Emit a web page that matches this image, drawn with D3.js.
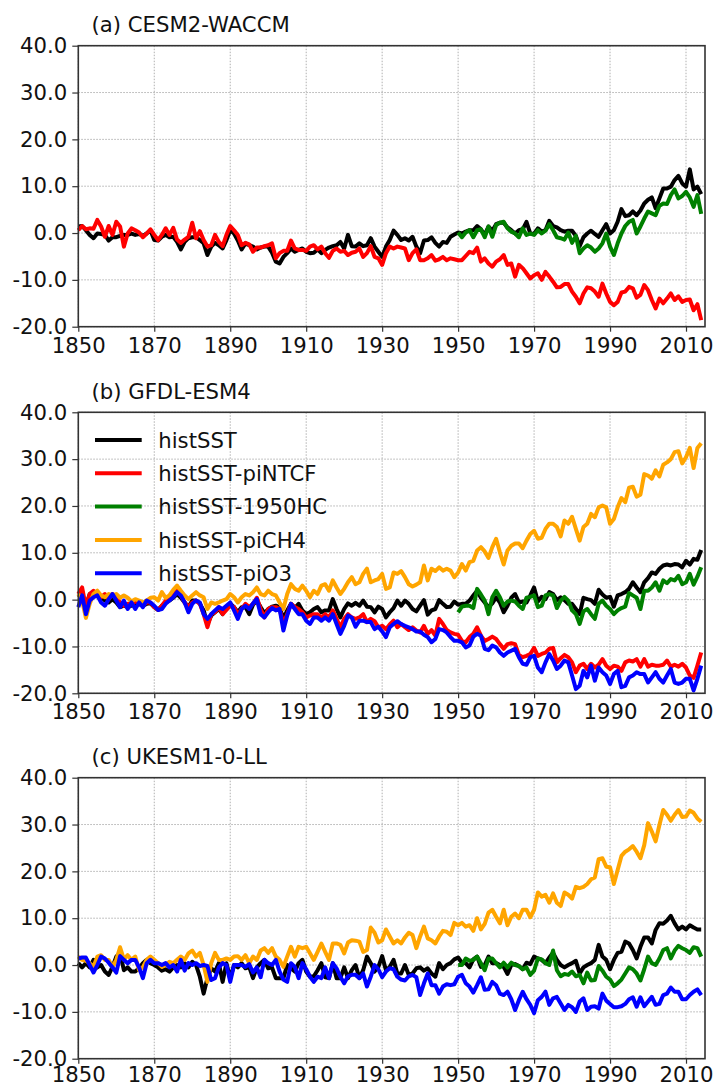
<!DOCTYPE html>
<html>
<head>
<meta charset="utf-8">
<script src="https://cdn.jsdelivr.net/npm/d3@7"></script>
<style>
  html, body { margin: 0; padding: 0; background: #fff; }
  svg { display: block; }
  text { font-family: "DejaVu Sans", sans-serif; }
</style>
</head>
<body>
<div id="graph_container"></div>
<script>
// years 1850..2014, 1950HC runs start in 1950
var years     = d3.range(1850, 2015);
var yearsHC   = d3.range(1950, 2015);
var xTicks    = [1850, 1870, 1890, 1910, 1930, 1950, 1970, 1990, 2010];
var yTicks    = [-20, -10, 0, 10, 20, 30, 40];

var seriesNames  = ["histSST", "histSST-piNTCF", "histSST-1950HC", "histSST-piCH4", "histSST-piO3"];
var seriesColors = ["#000000", "#ff0000", "#008000", "#ffa500", "#0000ff"];
var panelTitles  = ["(a) CESM2-WACCM", "(b) GFDL-ESM4", "(c) UKESM1-0-LL"];

// (a) CESM2-WACCM
var aHist = [
  1.4, 1.5, 0.6, -0.4, -1.1, -0.1, -0.2, -0.4, -1.6, -0.9,
  -0.9, -0.6, -0.4, -0.4, -0.1, -0.4, -0.2, -0.6, -0.1, 0.6,
  -1.5, -1.6, -0.8, -0.4, -0.9, -0.8, -1.9, -3.5, -1.9, -1.1,
  -0.9, -0.9, -1.5, -2.2, -4.7, -2.9, -2.1, -2.6, -3.3, -1.5,
  0.6, -0.1, -1.6, -3.5, -2.2, -2.6, -2.9, -3.5, -3.1, -2.9,
  -2.9, -4.2, -6.1, -6.5, -5.1, -4.3, -3.3, -4.0, -3.6, -3.3,
  -4.0, -4.3, -4.2, -3.5, -4.3, -3.6, -3.1, -2.8, -2.6, -1.9,
  -3.3, -0.4, -2.8, -2.9, -2.2, -2.8, -2.6, -1.1, -2.9, -4.0,
  -5.1, -2.9, -1.5, 0.5, -0.4, -1.5, -1.1, -1.6, -0.8, -2.9,
  -4.3, -1.6, -1.5, -0.9, -2.1, -2.9, -1.9, -2.1, -0.8, -0.3,
  0.1, -0.1, 0.3, 0.6, 0.6, 1.5, 0.8, -0.4, 1.4, 0.5,
  1.9, 2.2, 2.2, 1.2, 0.6, -0.1, 0.6, 0.8, 2.4, -0.1,
  -0.2, 1.0, 0.3, 0.6, 2.6, 1.5, 1.2, 0.6, 0.3, 0.5,
  0.5, -0.6, -2.8, -0.9, -0.1, 0.5, -0.2, -0.8, 0.6, 1.9,
  -0.1, 0.6, 2.4, 5.1, 3.6, 3.8, 4.6, 3.8, 4.8, 6.3,
  7.1, 7.6, 5.3, 7.4, 9.5, 9.5, 9.9, 11.3, 12.2, 10.6,
  9.9, 13.6, 9.3, 9.9, 8.3
];
var aNTCF = [
  0.6, 1.5, 0.8, 1.0, 0.9, 2.8, 1.4, -0.8, 1.5, -0.4,
  2.4, 1.4, -2.9, -0.1, 1.0, 0.6, 0.1, -0.9, -0.1, 0.8,
  -0.4, -1.5, -0.4, 1.0, -0.4, 1.1, -1.4, -2.1, -1.4, -0.8,
  2.2, -1.1, 0.4, -1.5, -2.9, -2.6, -0.4, -1.9, -2.8, -0.4,
  1.5, 0.6, -0.4, -2.6, -2.1, -2.4, -4.0, -3.1, -3.1, -2.8,
  -2.6, -2.2, -5.4, -4.3, -3.8, -3.8, -1.6, -3.3, -3.6, -3.6,
  -3.8, -2.9, -2.6, -3.5, -2.9, -4.3, -5.3, -3.8, -3.3, -4.0,
  -3.8, -4.7, -4.2, -4.0, -3.3, -5.1, -4.3, -2.8, -5.1, -5.4,
  -6.8, -4.3, -2.9, -3.3, -2.9, -3.1, -3.3, -5.8, -4.3, -3.5,
  -5.8, -5.8, -5.4, -4.7, -5.9, -5.6, -5.1, -5.8, -5.4, -5.6,
  -5.8, -5.8, -4.9, -4.0, -4.3, -3.1, -6.1, -5.4, -6.5, -7.2,
  -6.1, -5.6, -4.7, -6.8, -6.5, -9.3, -6.8, -7.5, -8.6, -9.7,
  -9.0, -8.6, -10.0, -8.3, -9.3, -10.4, -11.6, -11.5, -10.9, -10.9,
  -12.5, -13.6, -15.0, -12.9, -11.6, -11.8, -12.5, -13.6, -10.8, -12.9,
  -14.7, -15.4, -14.7, -12.7, -12.5, -11.5, -11.8, -13.8, -13.2, -11.1,
  -12.2, -14.3, -16.1, -14.0, -15.0, -14.0, -12.9, -14.3, -13.5, -14.7,
  -14.3, -14.2, -16.5, -15.2, -18.6
];
var aHC = [
  0.1, -0.9, 0.1, 0.6, -0.9, 0.6, 0.8, -0.9, 1.4, -0.8,
  1.7, 2.2, 2.4, 1.0, 0.3, -0.1, -0.9, 1.0, -0.4, -0.1,
  -0.4, 0.6, -0.1, 0.5, 1.9, 0.6, -0.9, -1.1, -1.4, 0.1,
  -2.1, -0.6, -4.3, -3.3, -2.6, -3.1, -4.0, -3.3, -2.2, -0.1,
  -2.9, -4.7, -2.2, -0.1, 1.5, 2.4, 2.8, -0.1, 1.4, 3.1,
  4.6, 4.2, 3.8, 5.8, 6.3, 6.2, 8.1, 9.3, 7.4, 7.9,
  8.8, 7.6, 5.6, 8.1, 4.1
];

// (b) GFDL-ESM4
var bHist = [
  0.5, 1.2, -1.3, 1.2, 1.6, 0.9, 0.5, -0.2, -0.6, 0.1,
  -0.6, -1.6, -1.3, -1.6, -1.3, -0.8, -0.9, -1.3, -0.9, -0.8,
  -1.6, -2.2, -1.3, -0.6, -0.2, 0.4, 1.2, 0.4, -0.6, -1.6,
  -0.2, -0.2, -0.9, -2.3, -5.2, -3.4, -2.7, -2.0, -3.1, -1.6,
  -0.9, -1.6, -2.7, -1.6, -1.6, -3.1, -1.1, -0.2, -1.6, -2.9,
  -2.0, -1.5, -1.3, -1.6, -4.1, -2.3, -0.9, -1.8, -0.9, -2.3,
  -3.1, -2.7, -2.0, -1.6, -2.7, -2.3, -2.3, 0.1, -2.0, -3.8,
  -2.0, -0.8, -1.3, -0.7, -1.3, -0.2, -1.5, -1.6, -2.7, -1.5,
  -2.0, -3.8, -2.7, -1.8, -0.2, -1.3, -0.2, -0.9, -2.0, -2.5,
  -1.3, -0.1, -3.2, -2.3, -2.0, -0.1, -0.9, -1.6, -1.5, -0.4,
  -1.1, -0.9, -0.9, -0.2, 0.9, 1.9, 0.4, -0.6, -1.6, -0.8,
  0.5, -0.6, -2.7, -1.3, 0.4, 1.2, -0.6, -0.4, -0.6, 0.9,
  2.6, -0.4, 0.6, 0.1, 1.6, 1.2, -0.1, 0.5, -0.1, -0.9,
  -0.9, -2.0, -3.1, 0.4, 0.1, -0.1, -0.9, 2.1, 1.1, 0.4,
  0.6, -1.5, 0.9, 1.2, 1.6, 2.3, 3.7, 2.6, 1.6, 3.7,
  4.6, 5.8, 5.5, 6.6, 7.3, 7.5, 7.3, 7.6, 7.5, 6.9,
  8.3, 7.5, 8.7, 8.5, 10.6
];
var bNTCF = [
  1.2, 2.6, -1.6, 1.2, 1.9, 1.2, 0.5, 1.2, 0.1, 1.2,
  0.4, -0.6, -1.3, -0.9, -0.9, -0.4, -0.6, -1.3, -0.6, -0.6,
  -1.6, -2.2, -1.3, -0.2, 0.1, 1.2, 1.9, 0.9, -0.6, -1.6,
  -0.6, -0.2, -0.9, -3.1, -5.9, -3.1, -2.7, -1.6, -3.1, -2.2,
  -1.3, -1.6, -3.1, -2.0, -0.9, -1.6, -0.9, 0.4, -2.0, -3.8,
  -2.0, -1.6, -1.6, -2.0, -5.2, -3.1, -0.9, -1.6, -2.0, -2.7,
  -3.8, -3.4, -3.1, -3.1, -3.8, -3.1, -3.8, -2.3, -4.1, -5.9,
  -4.1, -3.1, -3.8, -4.1, -3.8, -3.1, -4.8, -4.1, -4.6, -5.9,
  -5.6, -6.3, -5.3, -4.5, -5.9, -5.2, -5.9, -6.5, -5.9, -6.6,
  -7.0, -5.6, -7.3, -6.5, -7.7, -4.1, -5.2, -6.5, -7.0, -7.3,
  -7.5, -8.8, -9.1, -8.0, -7.3, -5.9, -7.7, -8.8, -8.4, -7.9,
  -8.4, -9.5, -10.5, -9.5, -9.3, -9.5, -11.8, -12.3, -12.0, -11.6,
  -10.3, -12.0, -11.6, -11.3, -10.5, -10.3, -13.4, -12.5, -11.8, -12.3,
  -13.4, -15.5, -14.1, -13.7, -14.8, -13.7, -14.5, -13.9, -12.7, -14.1,
  -14.8, -14.1, -14.3, -15.2, -13.4, -13.0, -13.2, -12.7, -14.3, -12.7,
  -14.3, -13.9, -14.1, -14.1, -13.9, -13.0, -14.3, -13.9, -14.3, -13.7,
  -14.5, -16.2, -16.7, -14.1, -11.3
];
var bHC = [
  -2.7, -1.5, -1.3, -1.3, -1.8, 2.3, 1.1, -0.2, -3.1, 0.5,
  1.9, 0.5, -1.3, -0.4, -0.2, -0.4, -1.3, -2.0, 0.4, 0.6,
  0.9, -1.6, -1.3, 0.9, 1.2, 0.9, -1.8, -0.2, 0.6, -0.2,
  -2.3, -3.1, -5.2, -2.5, -2.0, -3.1, -4.1, -0.9, -0.2, -1.3,
  -2.0, -3.1, -2.3, -1.8, -1.5, 1.4, 0.9, 0.4, -2.0, 1.9,
  1.9, 2.6, 3.7, 1.9, 4.1, 3.5, 4.4, 4.1, 5.1, 3.3,
  3.7, 5.5, 3.2, 4.9, 6.9
];
var bCH4 = [
  1.2, -0.2, -3.9, -0.9, 1.2, 1.9, 0.9, 0.5, 1.2, 0.9,
  1.2, 0.4, 0.9, 0.4, -0.4, 0.1, -0.2, -0.6, -0.2, 0.4,
  0.5, -0.2, 1.6, 0.4, 0.9, 2.1, 3.0, 1.9, 0.9, 0.1,
  0.9, 1.6, 0.9, 0.5, -2.0, -0.6, -0.9, -0.6, -0.2, 0.1,
  1.2, 0.5, -0.6, 0.5, 1.2, 0.9, 1.6, 2.6, 1.2, 0.9,
  1.9, 1.2, 0.9, -0.6, -2.0, 1.2, 3.3, 2.3, 1.9, 3.0,
  1.9, 0.5, 1.9, 1.2, 3.0, 3.3, 1.9, 4.1, 2.6, 1.2,
  2.3, 3.7, 4.8, 3.3, 3.7, 5.5, 6.6, 3.7, 4.1, 4.4,
  5.5, 2.3, 2.6, 5.8, 5.5, 6.1, 4.8, 3.3, 2.8, 3.2,
  3.7, 7.3, 4.1, 6.6, 6.1, 6.9, 6.2, 6.6, 6.2, 4.8,
  5.8, 7.6, 6.2, 8.0, 8.3, 10.5, 11.2, 10.3, 8.9, 11.2,
  13.0, 10.1, 7.5, 10.5, 11.5, 12.0, 12.0, 11.0, 12.6, 14.0,
  14.7, 13.0, 13.2, 15.1, 16.2, 16.2, 15.5, 13.5, 16.9, 16.2,
  17.7, 15.1, 12.6, 15.5, 16.2, 18.3, 17.6, 19.7, 20.1, 19.7,
  16.2, 17.2, 19.7, 21.7, 20.8, 23.9, 24.1, 22.0, 22.4, 26.8,
  26.5, 25.8, 27.6, 26.3, 28.8, 29.3, 30.0, 31.5, 31.7, 29.1,
  30.4, 32.4, 28.1, 32.4, 33.4
];
var bO3 = [
  -1.6, 0.9, -3.1, -0.2, 0.5, 0.9, -0.6, -1.3, 0.1, 1.2,
  -0.2, -1.6, -0.2, -2.0, -0.6, -2.0, -0.6, -1.6, -0.2, -0.6,
  -1.3, -2.2, -2.0, -0.9, -0.2, 0.5, 1.6, 0.9, -0.6, -2.7,
  -0.9, -0.2, -0.6, -3.1, -4.1, -3.1, -2.3, -1.6, -2.0, -1.3,
  -0.6, -2.3, -4.1, -2.0, -1.3, -2.0, -0.8, 0.1, -3.1, -3.8,
  -2.7, -1.8, -2.3, -2.0, -6.6, -3.4, -0.9, -2.0, -3.1, -3.1,
  -4.5, -5.2, -3.8, -3.8, -4.5, -3.8, -4.5, -3.1, -5.2, -7.3,
  -5.6, -3.4, -3.8, -5.8, -4.5, -4.5, -4.8, -4.8, -6.3, -5.8,
  -6.8, -8.0, -5.9, -5.2, -4.6, -5.2, -5.6, -5.9, -6.3, -6.8,
  -6.8, -7.5, -8.0, -9.1, -8.4, -6.3, -6.5, -7.0, -8.0, -8.8,
  -8.8, -9.1, -10.2, -9.8, -7.9, -7.3, -7.7, -10.5, -10.8, -9.8,
  -10.2, -11.3, -12.0, -11.3, -10.9, -10.5, -12.3, -13.7, -13.9, -12.3,
  -12.0, -14.5, -15.5, -13.4, -11.6, -13.0, -14.8, -14.1, -13.0, -13.4,
  -16.2, -19.1, -18.4, -15.2, -16.6, -14.1, -17.3, -14.5, -15.5, -16.2,
  -18.0, -15.9, -15.2, -18.7, -18.4, -16.6, -16.2, -15.5, -15.9, -15.9,
  -17.7, -16.6, -15.5, -16.9, -17.7, -16.2, -14.8, -17.7, -18.0, -17.7,
  -16.9, -16.9, -19.4, -16.9, -14.1
];

// (c) UKESM1-0-LL
var cHist = [
  0.4, -0.5, 0.4, -0.5, 1.1, -0.5, 0.0, -1.4, -2.1, -0.4,
  1.8, 2.5, -1.1, -0.5, -1.4, -1.4, -0.7, 0.4, 1.1, 0.4,
  0.0, -0.5, -1.2, -0.9, -1.4, -0.5, 0.0, -0.5, 0.4, -0.5,
  0.7, 0.0, -2.5, -6.1, -2.8, -0.7, -1.4, 0.4, -3.6, 0.4,
  -2.8, 0.0, -0.5, 0.4, -0.7, -0.4, -2.8, -0.5, 0.4, 1.1,
  -0.7, -0.5, -2.8, -2.8, -2.8, 0.0, -0.7, -1.4, 0.4, 1.1,
  -1.4, -2.5, -2.4, -1.1, 0.4, -2.6, -2.8, 0.4, -2.8, -2.8,
  -0.5, -2.8, -1.1, 0.0, -2.8, -1.1, 1.8, 0.4, -1.4, -0.4,
  1.9, -1.1, -0.4, 1.1, -1.8, -1.8, 0.0, -2.1, -1.8, -0.7,
  -0.5, -1.2, -0.7, -1.8, -2.5, 0.4, -0.9, 0.0, 0.4, 1.2,
  1.6, 0.5, 0.4, -0.5, 1.2, 1.8, -0.4, 0.0, 1.8, 0.4,
  0.4, 0.0, -0.4, -1.9, 0.0, 0.2, -0.2, -0.9, 0.5, 0.2,
  1.8, 1.4, 1.1, 0.4, 1.6, 2.6, 1.1, 0.0, -0.5, 0.0,
  0.4, 0.9, -1.8, -0.5, 0.0, 0.4, 1.1, 4.3, 1.8, 1.1,
  -0.9, 1.1, 2.6, 2.8, 5.0, 4.6, 3.2, 1.4, 3.9, 5.9,
  5.9, 4.6, 7.5, 8.9, 8.8, 9.5, 10.5, 8.9, 7.6, 8.2,
  7.6, 8.5, 8.0, 7.6, 7.6
];
var cHC = [
  0.0, 0.0, 1.4, 0.9, 1.1, 1.8, 0.4, -1.1, 1.4, 1.4,
  0.4, -0.5, 0.5, -0.5, 0.5, 0.0, -0.2, -0.9, -0.5, -2.1,
  -1.2, 1.4, 1.2, 0.4, 0.0, 3.1, -1.1, -2.4, -1.9, -2.1,
  -1.4, -2.4, -2.1, -3.9, -1.6, -3.3, -3.2, -0.2, -1.2, -2.5,
  -3.1, -4.5, -3.9, -3.1, -1.8, -0.5, -0.9, -1.8, -3.3, -0.9,
  1.8, 0.4, 0.0, 1.4, 3.2, 3.6, 1.4, 3.1, 4.1, 3.6,
  3.2, 2.6, 3.8, 3.6, 1.8
];
var cCH4 = [
  1.8, 1.1, 0.9, 0.4, -0.4, 1.8, 2.1, 1.1, 1.1, -0.4,
  1.1, 3.8, 1.2, 2.1, 1.1, 1.8, -1.1, -0.5, 1.1, 1.8,
  1.1, 0.4, -0.4, 0.0, 0.7, 0.4, 1.1, 1.8, 1.1, 2.5,
  3.1, 1.8, 2.6, 0.0, -3.6, 0.4, 2.6, 1.1, 1.1, 1.4,
  1.1, 1.8, 1.9, 1.1, 2.1, 0.4, 1.8, 1.1, 3.1, 3.6,
  2.6, 3.6, 1.8, 1.1, -0.4, 1.8, 3.9, 1.8, 3.9, 3.6,
  3.9, 2.5, 1.1, 2.8, 4.6, 2.8, 1.1, 4.6, 4.6, 4.3,
  2.5, 4.8, 5.3, 5.2, 5.0, 2.8, 3.2, 8.0, 6.9, 4.8,
  5.3, 7.6, 6.1, 4.6, 5.3, 4.6, 5.9, 6.9, 6.4, 3.6,
  6.1, 8.2, 5.7, 5.3, 4.6, 6.1, 7.3, 7.1, 6.4, 9.0,
  8.5, 9.0, 8.2, 8.5, 7.3, 10.0, 7.6, 8.8, 11.2, 11.8,
  10.3, 8.9, 11.8, 8.5, 10.3, 11.0, 10.0, 11.8, 11.8, 10.2,
  11.8, 15.5, 14.6, 15.0, 13.3, 15.3, 13.3, 12.6, 15.5, 15.0,
  14.2, 16.7, 16.4, 16.7, 17.3, 18.3, 18.7, 22.6, 22.8, 21.0,
  20.9, 17.3, 20.3, 23.3, 24.2, 24.7, 25.4, 24.2, 22.8, 25.6,
  30.3, 28.5, 26.4, 29.9, 33.1, 32.1, 30.8, 32.1, 33.1, 31.6,
  31.7, 33.0, 32.5, 31.3, 30.6
];
var cO3 = [
  1.4, 1.6, 1.6, 0.0, -1.6, 0.0, 1.8, 1.4, 0.5, -0.5,
  -1.6, 1.9, 1.1, 0.4, 1.1, 1.1, -0.5, -2.8, 0.4, 1.1,
  0.4, 0.4, 0.0, 0.4, -0.5, 0.0, -1.4, 1.1, -1.2, 0.4,
  0.0, 0.4, -0.2, 0.0, -0.2, -3.2, -2.8, -0.5, 0.4, 0.0,
  -3.6, 0.0, 0.0, 0.0, -0.4, 0.2, -1.6, -0.5, -2.6, 1.1,
  0.4, 0.0, 1.1, -1.4, -3.1, -3.6, 0.4, -0.4, -2.8, 0.4,
  -0.9, -2.5, -3.6, -2.5, -2.8, -0.5, -2.8, 0.4, -0.7, -2.5,
  -3.9, -2.4, -2.1, -2.1, -2.8, -1.8, -4.6, -2.5, 0.0, -0.9,
  -2.6, -1.4, -0.7, -0.9, -2.5, -3.1, -3.3, -2.4, -2.1, -2.6,
  -6.4, -3.9, -1.8, -4.3, -4.3, -6.1, -4.6, -4.1, -4.3, -4.1,
  -2.5, -2.1, -3.9, -4.6, -5.9, -4.3, -2.6, -5.3, -5.2, -3.6,
  -4.3, -6.1, -6.4, -5.7, -7.3, -9.6, -7.5, -5.7, -7.3, -8.5,
  -10.3, -7.5, -6.8, -5.7, -8.5, -7.1, -6.8, -8.2, -9.6, -8.5,
  -9.0, -10.0, -7.8, -7.1, -9.6, -8.9, -8.8, -9.3, -6.1, -7.6,
  -8.3, -9.0, -9.0, -8.8, -8.3, -7.3, -6.9, -8.9, -6.9, -8.8,
  -7.8, -6.8, -8.5, -8.3, -6.4, -6.1, -4.8, -5.7, -5.7, -7.3,
  -7.3, -6.4, -5.7, -5.2, -6.4
];

var width   = 717;
var height  = 1088;
var left    = 78.3;
var right   = 705;
var plotH   = 281;
var panelTop = [45.7, 412.3, 777.7];
var xPad     = [6, 6, 3];   // last panel sits right at the page bottom
var fontSize = 21.2;
var lineW    = 4;

var svg = d3.select("#graph_container").append("svg")
    .attr("width", width)
    .attr("height", height);

var x = d3.scaleLinear().domain([1850, 2015]).range([left, right]);

// each panel: list of [seriesIndex, values, years]
var panels = [
  [[0, aHist, years], [1, aNTCF, years], [2, aHC, yearsHC]],
  [[0, bHist, years], [1, bNTCF, years], [2, bHC, yearsHC], [3, bCH4, years], [4, bO3, years]],
  [[0, cHist, years], [2, cHC, yearsHC], [3, cCH4, years], [4, cO3, years]]
];

function draw_panel(p) {
    var top = panelTop[p];
    var y = d3.scaleLinear().domain([-20, 40]).range([top + plotH, top]);
    var g = svg.append("g");

    // grid
    g.selectAll(".gx").data(xTicks).enter().append("line")
        .attr("x1", function(d) { return x(d); })
        .attr("x2", function(d) { return x(d); })
        .attr("y1", top).attr("y2", top + plotH)
        .attr("stroke", "#b0b0b0").attr("stroke-width", 1)
        .attr("stroke-dasharray", "1.5,1.5");
    g.selectAll(".gy").data(yTicks).enter().append("line")
        .attr("x1", left).attr("x2", right)
        .attr("y1", function(d) { return y(d); })
        .attr("y2", function(d) { return y(d); })
        .attr("stroke", "#b0b0b0").attr("stroke-width", 1)
        .attr("stroke-dasharray", "1.5,1.5");

    // lines
    panels[p].forEach(function(s) {
        var vals = s[1], yrs = s[2];
        var line = d3.line()
            .x(function(d, i) { return x(yrs[i]); })
            .y(function(d) { return y(d); });
        g.append("path")
            .datum(vals)
            .attr("d", line)
            .attr("fill", "none")
            .attr("stroke", seriesColors[s[0]])
            .attr("stroke-width", lineW)
            .attr("stroke-linejoin", "round");
    });

    // axes
    var xAxis = d3.axisBottom(x).tickValues(xTicks).tickFormat(d3.format("d")).tickSize(5).tickPadding(xPad[p]);
    var yAxis = d3.axisLeft(y).tickValues(yTicks).tickFormat(function(d) { return d.toFixed(1); }).tickSize(6).tickPadding(5);

    var gx = g.append("g").attr("transform", "translate(0," + (top + plotH) + ")").call(xAxis);
    var gy = g.append("g").attr("transform", "translate(" + left + ",0)").call(yAxis);
    [gx, gy].forEach(function(a) {
        a.select(".domain").remove();
        a.selectAll("line").attr("stroke", "#333").attr("stroke-width", 1.2);
        a.selectAll("text").attr("fill", "#111").style("font-size", fontSize + "px")
            .style("font-family", "'DejaVu Sans', sans-serif");
    });

    // frame
    g.append("rect")
        .attr("x", left).attr("y", top)
        .attr("width", right - left).attr("height", plotH)
        .attr("fill", "none").attr("stroke", "#333").attr("stroke-width", 1.6);

    // title
    g.append("text")
        .attr("x", 91.5).attr("y", top - 13.5)
        .attr("fill", "#111")
        .style("font-size", fontSize + "px")
        .text(panelTitles[p]);
}

function draw_legend() {
    var top = panelTop[1];
    var lg = svg.append("g");
    seriesNames.forEach(function(name, i) {
        var cy = top + 27.7 + i * 33.3;
        lg.append("line")
            .attr("x1", 95).attr("x2", 141.7)
            .attr("y1", cy).attr("y2", cy)
            .attr("stroke", seriesColors[i]).attr("stroke-width", lineW);
        lg.append("text")
            .attr("x", 158.3).attr("y", cy + 7.6)
            .attr("fill", "#111")
            .style("font-size", fontSize + "px")
            .text(name);
    });
}

for (var p = 0; p < 3; p++) {
    draw_panel(p);
}
draw_legend();
</script>
</body>
</html>
